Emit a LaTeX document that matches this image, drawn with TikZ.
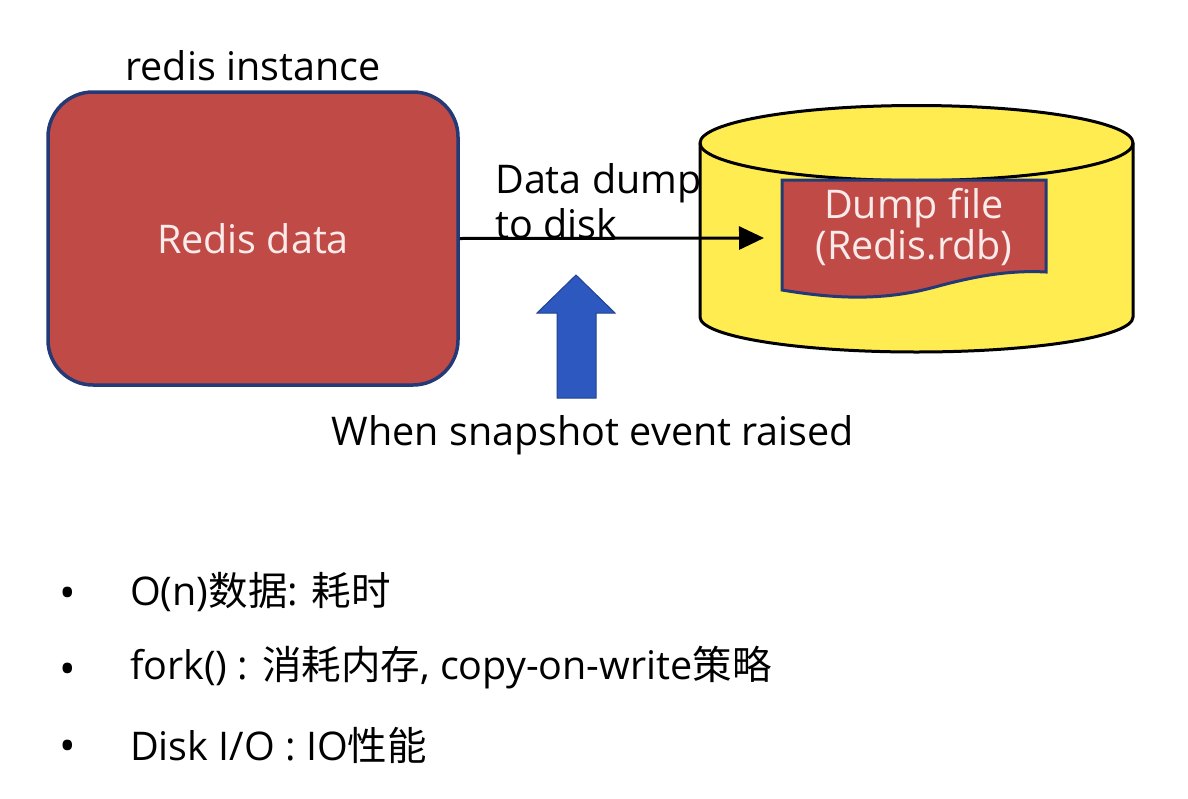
\documentclass[tikz,border=0pt]{standalone}
\usepackage{fontspec}
\setmainfont{Open Sans}
\newfontfamily\cjk{Noto Sans CJK SC}
\usepackage{xcolor}
\usepackage{tikz}
\usetikzlibrary{arrows.meta, positioning}

\definecolor{boxred}{RGB}{192,74,70}
\definecolor{boxedge}{RGB}{36,58,118}
\definecolor{diskyellow}{RGB}{255,236,80}
\definecolor{eventblue}{RGB}{44,88,192}
\definecolor{paletext}{RGB}{250,234,234}
\newcommand\zh[1]{{\cjk #1}}

\tikzset{
  redbox/.style={draw=boxedge, line width=3.5pt, fill=boxred, text=paletext},
  bulletitem/.style={anchor=west, inner sep=0pt},
  bulletdot/.style={inner sep=0pt, font=\fontsize{44}{46}\selectfont},
}

\begin{document}
\begin{tikzpicture}[x=1pt, y=-1pt, font=\fontsize{39.5}{44}\selectfont]
    \useasboundingbox[fill=white] (0,0) rectangle (1188,798);

    % redis instance
    \node[redbox, rectangle, rounded corners=45pt, minimum width=410pt, minimum height=293pt] (redis) at (253,238.5) {Redis data};
    \node[above=9pt of redis.north, inner sep=0pt] (inst) {redis instance};

    % disk with dump file
    \draw[line width=3pt, fill=diskyellow] (700,143) -- (700,317) arc (180:0:216.5 and 35) -- (1133,143) arc (360:180:216.5 and 37.5) -- cycle;
    \draw[line width=3pt] (700,143) arc (180:0:216.5 and 37.5);
    \draw[redbox, line width=3pt] (782,180) -- (1046,180) -- (1046,272) .. controls (1010,270) and (975,276) .. (935,287) .. controls (880,302) and (830,298) .. (782,290) -- cycle;
    \node[align=center, text=paletext, font=\fontsize{39.5}{41}\selectfont] (dump) at (914,227) {Dump file\\(Redis.rdb)};

    % dump arrow
    \coordinate (tip) at (764,238);
    \draw[line width=3pt, -{Triangle[length=25pt, width=23pt]}] (redis.east) -- (tip);
    \node[anchor=north west, align=left, inner sep=0pt, font=\fontsize{39.5}{45}\selectfont] (dumplabel) at (495,163) {Data dump\\to disk};

    % snapshot event
    \draw[draw=eventblue!75!black, line width=1pt, fill=eventblue] (576,275) -- (615,313) -- (596,313) -- (596,398) -- (557,398) -- (557,313) -- (537,313) -- cycle;
    \node (snap) at (593,435) {When snapshot event raised};

    % notes
    \node[bulletdot] (dot1) at (68,598) {\textbullet};
    \node[bulletdot] (dot2) at (68,674) {\textbullet};
    \node[bulletdot] (dot3) at (68,751) {\textbullet};
    \node[bulletitem] (item1) at (130,592) {O(n)\zh{数据}: \zh{耗时}};
    \node[bulletitem] (item2) at (130,668) {fork() : \zh{消耗内存}, copy-on-write\zh{策略}};
    \node[bulletitem] (item3) at (130,745) {Disk I/O : IO\zh{性能}};
\end{tikzpicture}
\end{document}
